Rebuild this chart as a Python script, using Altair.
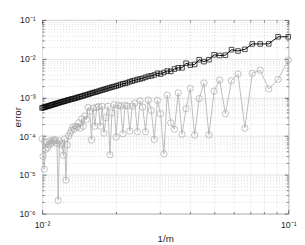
import altair as alt
import pandas as pd

# m values (x = 1/m)
m_vals = list(range(10, 101))

black_err = [
    3.67e-2, 3.67e-2, 2.41e-2, 2.40e-2, 2.40e-2, 1.74e-2, 1.58e-2, 1.71e-2, 1.23e-2, 1.21e-2,
    1.26e-2, 9.4e-3, 8.4e-3, 9.4e-3, 7.1e-3, 6.8e-3, 7.6e-3, 5.8e-3, 5.8e-3, 5.4e-3,
    4.7e-3, 4.8e-3, 4.4e-3, 4.0e-3, 4.2e-3, 3.8e-3, 3.6e-3, 3.5e-3, 3.3e-3, 3.1e-3,
    3.0e-3, 2.9e-3, 2.75e-3, 2.65e-3, 2.55e-3, 2.4e-3, 2.3e-3, 2.25e-3, 2.15e-3, 2.05e-3,
    1.97e-3, 1.9e-3, 1.85e-3, 1.78e-3, 1.72e-3, 1.65e-3, 1.6e-3, 1.55e-3, 1.5e-3, 1.44e-3,
    1.4e-3, 1.36e-3, 1.32e-3, 1.28e-3, 1.24e-3, 1.2e-3, 1.17e-3, 1.14e-3, 1.1e-3, 1.07e-3,
    1.04e-3, 1.02e-3, 0.99e-3, 0.96e-3, 0.94e-3, 0.92e-3, 0.9e-3, 0.88e-3, 0.86e-3, 0.84e-3,
    0.82e-3, 0.8e-3, 0.78e-3, 0.77e-3, 0.75e-3, 0.73e-3, 0.72e-3, 0.7e-3, 0.685e-3, 0.67e-3,
    0.655e-3, 0.64e-3, 0.63e-3, 0.615e-3, 0.6e-3, 0.59e-3, 0.58e-3, 0.565e-3, 0.555e-3, 0.545e-3,
    0.535e-3,
]

gray_err = [
    9.2e-3, 2.9e-3, 1.65e-3, 5.0e-3, 4.2e-3, 1.6e-4, 4.0e-3, 2.7e-3, 3.8e-4, 2.8e-3,
    1.45e-3, 1.08e-4, 2.35e-3, 9.3e-4, 1.07e-4, 1.7e-3, 5.1e-4, 1.12e-4, 1.3e-3, 1.5e-4,
    2.2e-4, 1.15e-3, 3.5e-5, 3.8e-4, 8.4e-4, 8.2e-5, 4.6e-4, 8.5e-4, 1.3e-4, 5.6e-4,
    8.2e-4, 1.3e-4, 7.1e-4, 6.0e-4, 1.35e-4, 6.0e-4, 6.2e-4, 1.15e-4, 6.0e-4, 6.3e-4,
    9.5e-5, 6.5e-4, 4.0e-4, 3.3e-5, 5.9e-4, 3.0e-4, 1.2e-4, 5.9e-4, 1.8e-4, 5.8e-4,
    5.5e-4, 1.8e-4, 5.3e-4, 8.0e-5, 4.4e-4, 5.5e-4, 2.7e-4, 3.3e-4, 1.8e-4, 2.8e-4,
    1.6e-4, 2.2e-4, 1.7e-4, 1.8e-4, 1.5e-4, 1.7e-4, 1.4e-4, 1.2e-4, 1.0e-4, 6.0e-5,
    7.3e-6, 8.5e-5, 3.2e-5, 6.5e-5, 6.0e-5, 7.5e-5, 2.2e-6, 6.5e-5, 8.0e-5, 7.5e-5,
    8.0e-5, 7.0e-5, 6.5e-5, 7.5e-5, 6.0e-5, 5.0e-5, 7.0e-5, 4.5e-5, 1.4e-5, 3.0e-5,
    8.5e-5,
]

x_major = [0.01, 0.1]
x_minor = [0.02, 0.03, 0.04, 0.05, 0.06, 0.07, 0.08, 0.09]
y_major = [1e-6, 1e-5, 1e-4, 1e-3, 1e-2, 1e-1]
y_minor = [k * d for d in [1e-6, 1e-5, 1e-4, 1e-3, 1e-2] for k in range(2, 10)]

df_black = pd.DataFrame({"x": [1.0 / m for m in m_vals], "err": black_err})
df_gray = pd.DataFrame({"x": [1.0 / m for m in m_vals], "err": gray_err})

FONT = "Liberation Sans"
TXT = "#262626"
label_expr = (
    "datum.value < 2e-6 ? '10⁻⁶' : datum.value < 2e-5 ? '10⁻⁵' : "
    "datum.value < 2e-4 ? '10⁻⁴' : datum.value < 2e-3 ? '10⁻³' : "
    "datum.value < 2e-2 ? '10⁻²' : '10⁻¹'"
)

xs = alt.Scale(type="log", domain=[0.01, 0.1], nice=False)
ys = alt.Scale(type="log", domain=[1e-6, 1e-1], nice=False)

def minor_axis(orient, values, grid):
    kw = dict(orient=orient, values=values, labels=False, domain=False, title=None,
              ticks=True, tickSize=2, tickColor="#4d4d4d", tickWidth=0.8, offset=-2,
              grid=grid)
    if grid:
        kw.update(gridDash=[1, 2], gridColor="#cfcfcf", gridWidth=0.8)
    return alt.Axis(**kw)

def major_axis(orient, values, grid, labels, title=None, title_pad=4):
    kw = dict(orient=orient, values=values, labels=labels, domain=False,
              ticks=True, tickSize=4, tickColor="#4d4d4d", tickWidth=0.8, offset=-4,
              grid=grid)
    if grid:
        kw.update(gridColor="#e3e3e3", gridWidth=1)
    if labels:
        kw.update(labelExpr=label_expr, labelFont=FONT, labelFontSize=9,
                  labelColor=TXT, labelPadding=7, labelFlush=False, labelOverlap=False)
    if title is not None:
        kw.update(title=title, titleFont=FONT, titleFontSize=10, titleColor=TXT,
                  titleFontWeight="normal", titlePadding=title_pad)
    else:
        kw.update(title=None)
    return alt.Axis(**kw)

gray_line = alt.Chart(df_gray).mark_line(color="#bcbcbc", strokeWidth=1).encode(
    x=alt.X("x:Q", scale=xs, axis=minor_axis("bottom", x_minor, True)),
    y=alt.Y("err:Q", scale=ys, axis=minor_axis("left", y_minor, True)),
)
gray_pts = alt.Chart(df_gray).mark_point(
    shape="circle", filled=False, color="#a8a8a8", size=42, strokeWidth=1
).encode(
    x=alt.X("x:Q", scale=xs, axis=minor_axis("top", x_minor, False)),
    y=alt.Y("err:Q", scale=ys, axis=minor_axis("right", y_minor, False)),
)
black_line = alt.Chart(df_black).mark_line(color="#000000", strokeWidth=1).encode(
    x=alt.X("x:Q", scale=xs, axis=major_axis("bottom", x_major, True, True, "1/m", 5)),
    y=alt.Y("err:Q", scale=ys, axis=major_axis("left", y_major, True, True, "error", -4)),
)
black_pts = alt.Chart(df_black).mark_point(
    shape="square", filled=False, color="#000000", size=22, strokeWidth=1
).encode(
    x=alt.X("x:Q", scale=xs, axis=major_axis("top", x_major, False, False)),
    y=alt.Y("err:Q", scale=ys, axis=major_axis("right", y_major, False, False)),
)

chart = (
    alt.layer(gray_line, gray_pts, black_line, black_pts)
    .resolve_axis(x="independent", y="independent")
    .properties(
        width=253,
        height=199,
        autosize=alt.AutoSizeParams(type="none"),
        padding={"left": 35, "top": 9, "right": 9, "bottom": 28},
        background="white",
    )
    .configure_view(stroke="#8a8a8a", strokeWidth=1)
)

chart.save("out.html", embed_options={"renderer": "svg", "actions": False})
